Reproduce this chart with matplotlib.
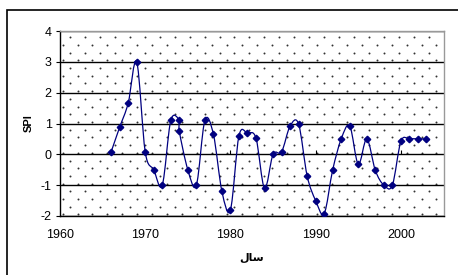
import numpy as np
import matplotlib.pyplot as plt
from matplotlib.path import Path
from matplotlib.patches import PathPatch, Rectangle

# data
years = [1966, 1967, 1968, 1969, 1970, 1971, 1972, 1973, 1974, 1974, 1975,
         1976, 1977, 1978, 1979, 1980, 1981, 1982, 1983, 1984, 1985, 1986,
         1987, 1988, 1989, 1990, 1991, 1992, 1993, 1994, 1995, 1996, 1997,
         1998, 1999, 2000, 2001, 2002, 2003]
spi = [0.08, 0.88, 1.66, 3.0, 0.08, -0.5, -1.0, 1.1, 1.1, 0.75, -0.5,
       -1.0, 1.1, 0.65, -1.2, -1.8, 0.6, 0.68, 0.52, -1.1, 0.0, 0.08,
       0.92, 0.98, -0.7, -1.5, -1.92, -0.5, 0.5, 0.92, -0.32, 0.5, -0.52,
       -1.0, -1.0, 0.42, 0.5, 0.5, 0.5]
x_ticks = [1960, 1970, 1980, 1990, 2000]
y_ticks = [-2, -1, 0, 1, 2, 3, 4]

navy = '#000080'
W, H = 458, 275

plt.rcParams['font.family'] = ['Liberation Sans', 'DejaVu Sans']
plt.rcParams['axes.unicode_minus'] = False

fig = plt.figure(figsize=(W / 100, H / 100), dpi=100)

# outer chart frame (cut off on right and bottom)
fig.patches.append(Rectangle((7 / W, -0.1), 1.2, (H - 10) / H + 0.1,
                             transform=fig.transFigure, fill=False,
                             edgecolor='black', linewidth=1.2))

axes = fig.add_axes([60 / W, (H - 216) / H, (443.5 - 60) / W, (216 - 31) / H])
axes.set_xlim(1960, 2005)
axes.set_ylim(-2, 4)

# dotted background pattern of the plot area
for k in range(24):
    yy = 3.8 - k * 0.25
    x0 = 1961.17 if k % 2 == 0 else 1960.3
    xs = np.arange(x0, 2005, 1.755)
    axes.scatter(xs, np.full(len(xs), yy), s=2.0, color='#333333',
                 linewidths=0, zorder=1)

# horizontal grid
for v in y_ticks:
    axes.axhline(v, color='black', linewidth=1.0, zorder=2)

# smoothed line (Catmull-Rom bezier through the points, like Excel)
pts = np.column_stack([years, spi]).astype(float)
verts = [pts[0]]
codes = [Path.MOVETO]
n = len(pts)
for i in range(n - 1):
    p0 = pts[i - 1] if i > 0 else pts[i]
    p1 = pts[i]
    p2 = pts[i + 1]
    p3 = pts[i + 2] if i + 2 < n else pts[i + 1]
    c1 = p1 + (p2 - p0) / 6.0
    c2 = p2 - (p3 - p1) / 6.0
    verts += [c1, c2, p2]
    codes += [Path.CURVE4] * 3
axes.add_patch(PathPatch(Path(verts, codes), fill=False, edgecolor=navy,
                         linewidth=0.9, zorder=3))
axes.plot(years, spi, linestyle='none', marker='D', markersize=3.3,
          color=navy, zorder=4)

# small tick marks on the zero line
axes.plot(x_ticks[1:], [0] * (len(x_ticks) - 1), linestyle='none',
          marker=2, markersize=3, color='black', markeredgewidth=0.8,
          zorder=2)

axes.set_xticks(x_ticks)
axes.set_yticks(y_ticks)
axes.tick_params(axis='x', length=0, labelsize=9, pad=9)
axes.tick_params(axis='y', length=3, labelsize=9, pad=3, width=0.8)

for side in ['top', 'right']:
    axes.spines[side].set_color('#999999')
    axes.spines[side].set_linewidth(1.0)
for side in ['left', 'bottom']:
    axes.spines[side].set_color('black')
    axes.spines[side].set_linewidth(1.0)

axes.set_ylabel('SPI', fontsize=8, fontweight='bold', labelpad=5)
# "سال" written with presentation forms in visual order
axes.set_xlabel('\uFEDD\uFE8E\uFEB3', fontsize=8, fontweight='bold',
                family=['DejaVu Sans'], labelpad=9)

fig.savefig('out.png', dpi=100)
